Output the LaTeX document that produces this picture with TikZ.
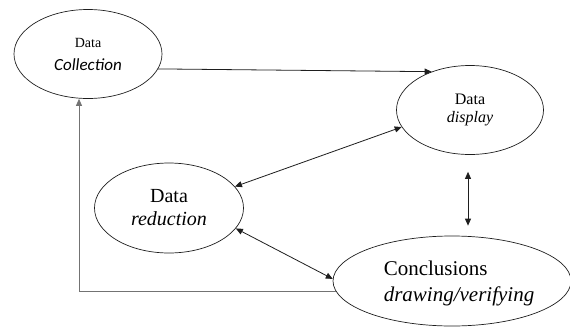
\documentclass[tikz,border=0pt]{standalone}
\usepackage{fontspec}
\setmainfont{Liberation Serif}
\newfontfamily\calfont{Carlito}
\usepackage{tikz}
\usetikzlibrary{shapes.geometric, arrows.meta}
\definecolor{edge}{RGB}{30,30,30}
\definecolor{loopback}{RGB}{115,115,115}
\tikzstyle{cycle} = [ellipse, draw=edge, line width=0.7pt, inner sep=0pt, align=center]
\tikzstyle{arrow} = [line width=0.8pt, draw=edge, ->, >={Triangle[length=7pt,width=6pt]}]
\tikzstyle{twoway} = [arrow, <->]
\tikzstyle{feedback} = [arrow, draw=loopback]

\begin{document}
\begin{tikzpicture}[x=1pt, y=-1pt]
		\useasboundingbox (0,0) rectangle (570,327);
		
		% Nodes
		\node (collection) [cycle, minimum width=148pt, minimum height=89pt, font=\fontsize{14}{23}\selectfont] at (88,54) {Data\\{\calfont\itshape\fontsize{17}{23}\selectfont Collection}};
		\node (display) [cycle, minimum width=147pt, minimum height=89pt, font=\fontsize{16}{18}\selectfont] at (470,110) {Data\\\textit{display}};
		\node (reduction) [cycle, minimum width=149pt, minimum height=90pt, font=\fontsize{20}{23}\selectfont] at (169,208) {Data\\\textit{reduction}};
		\node (conclusions) [cycle, minimum width=238pt, minimum height=90pt] at (452,281) {};
		\node (conclusionstext) [align=left, inner sep=0pt, font=\fontsize{21}{26}\selectfont] at ([xshift=7pt, yshift=-2pt]conclusions.center) {Conclusions\\\textit{drawing/verifying}};
		
		% Arrows
		\draw [arrow] (collection.-12) -- (display.135);
		\draw [twoway] (display.194) -- (reduction.18);
		\draw [twoway] ([xshift=-2pt, yshift=-17pt]display.south) -- ([xshift=-2pt, yshift=10pt]display.south |- conclusions.north);
		\draw [twoway] (reduction.-17) -- (conclusions.179);
		\draw [feedback] (conclusions.185.5) -| ([xshift=-9pt]collection.south);
		
	\end{tikzpicture}
\end{document}
